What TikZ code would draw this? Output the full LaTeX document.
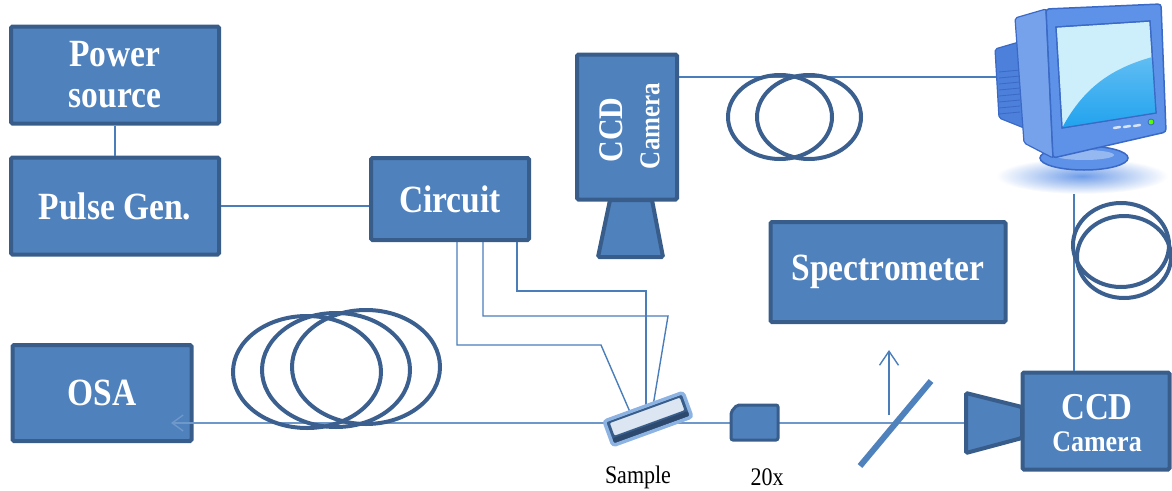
\documentclass[tikz,border=0pt]{standalone}
\usepackage{fontspec}
\usepackage{graphicx}
\setmainfont{Liberation Serif}
\usetikzlibrary{arrows.meta,calc}

\definecolor{boxfill}{HTML}{4F81BD}
\definecolor{boxedge}{HTML}{385D8A}
\definecolor{wire}{HTML}{4A7EBB}
\definecolor{coil}{HTML}{3B5F8E}
\definecolor{slabface}{HTML}{DCE6F2}
\definecolor{slabglow}{HTML}{8DB3E2}
\definecolor{monface}{HTML}{5E92E8}
\definecolor{monside}{HTML}{4C80DA}
\definecolor{monedge}{HTML}{3A69C6}
\definecolor{scrlight}{HTML}{CDEFFC}
\definecolor{scrbright}{HTML}{1FA2EE}
\definecolor{shadowblue}{HTML}{6F9DE9}

% tall serif lettering
\newcommand\tall[1]{\scalebox{1}[1.15]{#1}}
\newcommand\boxfont{\bfseries\fontsize{33.5}{40}\selectfont}

\begin{document}
\begin{tikzpicture}[x=1pt,y=-1pt,
  unit/.style={draw=boxedge, fill=boxfill, line width=4pt, rounded corners=1.5pt,
               text=white, font=\boxfont, align=center, inner sep=0pt},
  wireline/.style={draw=wire, line width=1.4pt},
  coilring/.style={draw=coil, line width=4pt},
  label/.style={font=\fontsize{22}{24}\selectfont, inner sep=0pt},
]
\useasboundingbox (0,0) rectangle (1172,490);

% ---------- instrument boxes ----------
\node[unit, minimum width=208pt, minimum height=97pt] (power) at (115,75)
  {\tall{Power}\\[1pt]\tall{source}};
\node[unit, minimum width=208pt, minimum height=97pt] (pulse) at (115,206)
  {\tall{Pulse Gen.}};
\node[unit, minimum width=158pt, minimum height=82pt] (circuit) at (450,199)
  {\tall{Circuit}};
\node[unit, minimum width=179pt, minimum height=96pt] (osa) at (102,393)
  {\tall{OSA}};
\node[unit, minimum width=235pt, minimum height=100pt] (spec) at (888,272)
  {\tall{Spectrometer}};

% top camera (upright)
\node[unit, minimum width=100pt, minimum height=145pt] (ccdtop) at (627,127) {};
\node[text=white, font=\bfseries\fontsize{30}{30}\selectfont, rotate=90] (ccdtopa) at (611,130) {\tall{CCD}};
\node[text=white, font=\bfseries\fontsize{25}{25}\selectfont, rotate=90] (ccdtopb) at (650,126) {\tall{Camera}};
\draw[draw=boxedge, fill=boxfill, line width=4pt, rounded corners=1.5pt]
  (610,200) -- (652,200) -- (663,257) -- (598,257) -- cycle;

% bottom camera (sideways)
\node[unit, minimum width=147pt, minimum height=97pt] (ccdbot) at (1096,421) {};
\node[text=white, font=\bfseries\fontsize{33}{33}\selectfont] (ccdbota) at (1097,407) {\tall{CCD}};
\node[text=white, font=\bfseries\fontsize{26}{26}\selectfont] (ccdbotb) at (1097,442) {\tall{Camera}};

% ---------- reference points ----------
\coordinate (osain) at (171,423);
\coordinate (lensL) at (965,423);
\coordinate (monL) at (996,77);
\coordinate (monB) at (1074,180);
\coordinate (wa) at (457,0);
\coordinate (wb) at (483,0);
\coordinate (wc) at (517,0);
\coordinate (sa) at (630,412);
\coordinate (sb) at (653,406);
\coordinate (sc) at (646,406);

% ---------- connectors ----------
\draw[wireline] (power.south) -- (pulse.north);
\draw[wireline] (pulse.east) -- (circuit.west |- pulse.east);
\draw[wireline] (circuit.south -| wa) -- (457,345) -- (601,345) -- (sa);
\draw[wireline] (circuit.south -| wb) -- (483,316) -- (668,316) -- (sb);
\draw[wireline] (circuit.south -| wc) -- (517,291) -- (646,291) -- (sc);
\draw[wireline] (ccdtop.east |- monL) -- (monL);
\draw[wireline] (monB) -- (ccdbot.north -| monB);
\draw[wireline, draw=wire!80!white, -{Straight Barb[length=11pt,width=16pt]}] (lensL) -- (osain);

% reflected beam
\coordinate (upA) at (889,415);
\coordinate (upB) at (889,350);
\draw[wireline, -{Straight Barb[length=14pt,width=19pt]}] (upA) -- (upB);

% beam splitter
\coordinate (mirA) at (860,466);
\coordinate (mirB) at (931,381);
\draw[draw=boxfill, line width=6pt] (mirA) -- (mirB);

% camera lens on the bottom camera
\draw[draw=boxedge, fill=boxfill, line width=4pt, rounded corners=1.5pt]
  (1022,407) -- (966,393) -- (966,453) -- (1022,438) -- cycle;

% microscope objective
\draw[draw=boxedge, fill=boxfill, line width=3pt, rounded corners=2pt]
  (737,405) -- (778,405) -- (778,440) -- (731,440) -- (731,412) -- cycle;

% ---------- fibre coils ----------
\draw[coilring] (307,372) ellipse [x radius=74pt, y radius=56pt];
\draw[coilring] (336,370) ellipse [x radius=74pt, y radius=57pt];
\draw[coilring] (366,367) ellipse [x radius=74pt, y radius=57pt];

\draw[coilring] (780,117) ellipse [x radius=52pt, y radius=42pt];
\draw[coilring] (809,117) ellipse [x radius=52pt, y radius=42pt];

\draw[coilring] (1121,245) ellipse [x radius=48pt, y radius=42pt];
\draw[coilring] (1124,257) ellipse [x radius=47pt, y radius=41pt];

% ---------- sample slab ----------
\begin{scope}[shift={(648,419)}, rotate=20]
  \draw[draw=slabglow, line width=3.5pt, fill=boxedge, rounded corners=3pt]
    (-42,-13) rectangle (42,13);
  \fill[boxedge!80!black, rounded corners=2pt] (-40,6) rectangle (40,11);
  \draw[draw=boxedge, line width=1.5pt, fill=slabface, rounded corners=2pt]
    (-38,-10) rectangle (38,5);
\end{scope}

% ---------- labels ----------
\node[label] (samplelbl) at (638,477) {\tall{Sample}};
\node[label] (objlbl) at (767,477) {\tall{20x}};

% ---------- monitor ----------
\shade[inner color=shadowblue, outer color=white] (1082,176) ellipse [x radius=86pt, y radius=18pt];
% stand
\filldraw[fill=monface, draw=monedge, line width=1.2pt] (1066,138) -- (1100,132) -- (1102,156) -- (1066,160) -- cycle;
\filldraw[fill=monface, draw=monedge, line width=1.5pt] (1084,158) ellipse [x radius=44pt, y radius=12pt];
\fill[white, opacity=0.35] (1084,155) ellipse [x radius=30pt, y radius=5pt];
% back housing with vents
\filldraw[fill=monside, draw=monedge, line width=1.2pt, rounded corners=2pt]
  (995,49) -- (1019,42) -- (1024,128) -- (999,118) -- cycle;
\foreach \k in {0,...,7}
  \draw[monedge, line width=0.8pt] (999,72+6*\k) -- (1020,70+6*\k);
% side of cabinet
\filldraw[fill=monface!85!white, draw=monedge, line width=1.2pt, rounded corners=2pt]
  (1015,18) -- (1046,9) -- (1053,158) -- (1024,143) -- cycle;
% front bezel
\filldraw[fill=monface, draw=monedge, line width=1.5pt, rounded corners=3pt]
  (1046,9) -- (1161,4) -- (1166,132) -- (1053,158) -- cycle;
% screen
\filldraw[fill=scrlight, draw=monedge, line width=1.2pt]
  (1056,27) -- (1150,21) -- (1156,113) -- (1062,128) -- cycle;
\begin{scope}
  \clip (1056,27) -- (1150,21) -- (1156,113) -- (1062,128) -- cycle;
  \shade[top color=scrbright!70!white, bottom color=scrbright]
    (1062,128) .. controls (1085,85) and (1115,66) .. (1160,55) -- (1160,130) -- cycle;
\end{scope}
\draw[monedge, line width=1.2pt] (1056,27) -- (1150,21) -- (1156,113) -- (1062,128) -- cycle;
% front controls
\foreach \x/\y in {1114/128, 1124/127, 1134/126}
  \draw[white!75!monface, line width=2.5pt, line cap=round] (\x,\y) -- ++(6,-1);
\filldraw[fill=green!65!yellow, draw=monedge, line width=0.8pt] (1151,122) circle (3pt);

\end{tikzpicture}
\end{document}
